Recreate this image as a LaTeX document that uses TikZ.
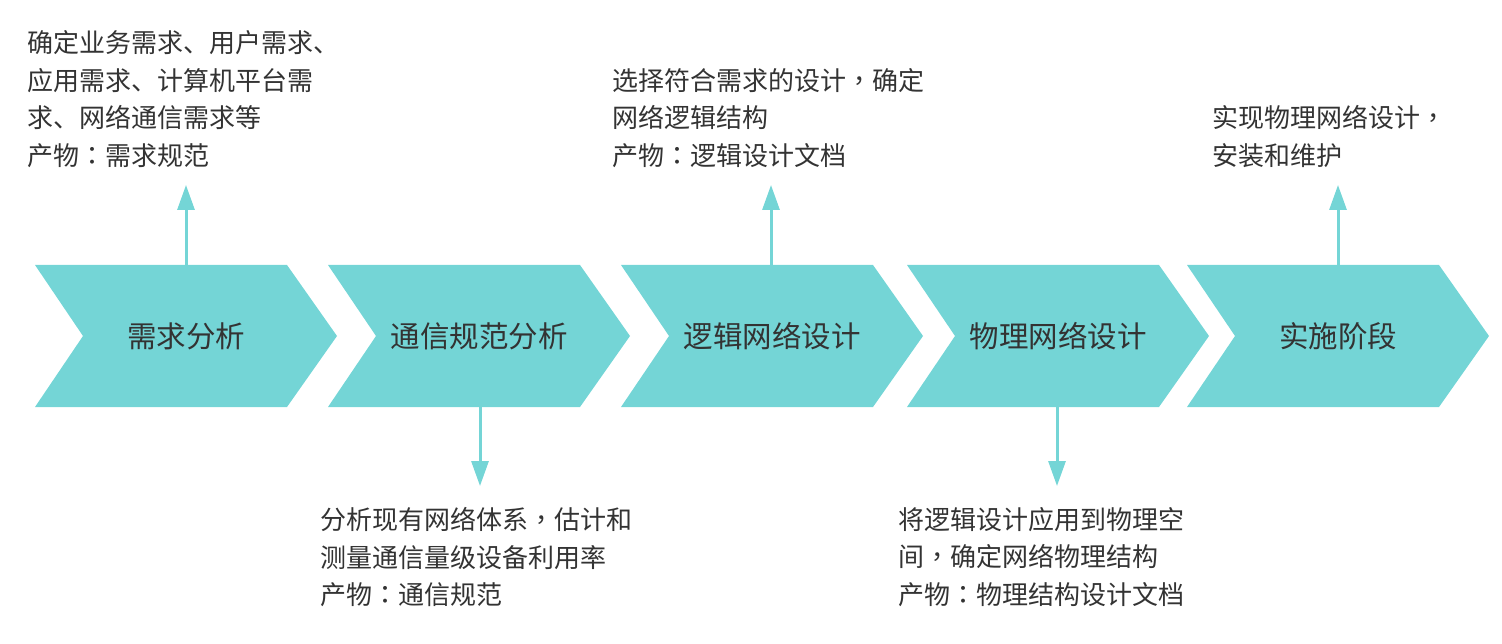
\documentclass[tikz,border=0pt]{standalone}
\usepackage{fontspec}
\setmainfont{Noto Sans CJK SC}
\newfontfamily\tcpunct{Noto Sans CJK TC}
\usetikzlibrary{arrows.meta}
\definecolor{chevcol}{HTML}{74D5D6}
\definecolor{txtcol}{HTML}{333333}
\newcommand{\cm}{{\tcpunct ，}}
\newcommand{\cl}{{\tcpunct ：}}
\tikzset{
    stage/.style={minimum height=142pt, inner sep=0pt, text=txtcol, font=\fontsize{29.5}{30}\selectfont},
    desc/.style={align=left, inner sep=0pt, text=txtcol, font=\fontsize{26}{37.7}\selectfont},
    link/.style={chevcol, line width=3pt, -{Triangle[width=17pt,length=25pt]}}
}

\begin{document}
\begin{tikzpicture}[x=1pt,y=-1pt]
        \useasboundingbox (0,0) rectangle (1502,644);
        \foreach \x in {35,328,621,907,1187}
            \fill[chevcol] (\x,265) -- ++(252,0) -- ++(50,71) -- ++(-50,71) -- ++(-252,0) -- ++(48,-71) -- cycle;
        \node[stage] (s1) at (186,336) {需求分析};
        \node[stage] (s2) at (479,336) {通信规范分析};
        \node[stage] (s3) at (772,336) {逻辑网络设计};
        \node[stage] (s4) at (1058,336) {物理网络设计};
        \node[stage] (s5) at (1338,336) {实施阶段};
        % descriptions above and below
        \node[desc, anchor=south west] (d1) at (27,168) {确定业务需求、用户需求、\\应用需求、计算机平台需\\求、网络通信需求等\\产物\cl 需求规范};
        \node[desc, anchor=north west] (d2) at (320,507) {分析现有网络体系\cm 估计和\\测量通信量级设备利用率\\产物\cl 通信规范};
        \node[desc, anchor=south west] (d3) at (612,168) {选择符合需求的设计\cm 确定\\网络逻辑结构\\产物\cl 逻辑设计文档};
        \node[desc, anchor=north west] (d4) at (898,507) {将逻辑设计应用到物理空\\间\cm 确定网络物理结构\\产物\cl 物理结构设计文档};
        \node[desc, anchor=south west] (d5) at (1212,168) {实现物理网络设计\cm\\安装和维护};
        \coordinate (t1) at (186,185);
        \coordinate (t2) at (480,486);
        \coordinate (t3) at (771,185);
        \coordinate (t4) at (1057,486);
        \coordinate (t5) at (1338,185);
        \draw[link] (s1.north -| t1) -- (t1);
        \draw[link] (s2.south -| t2) -- (t2);
        \draw[link] (s3.north -| t3) -- (t3);
        \draw[link] (s4.south -| t4) -- (t4);
        \draw[link] (s5.north -| t5) -- (t5);
\end{tikzpicture}
\end{document}
